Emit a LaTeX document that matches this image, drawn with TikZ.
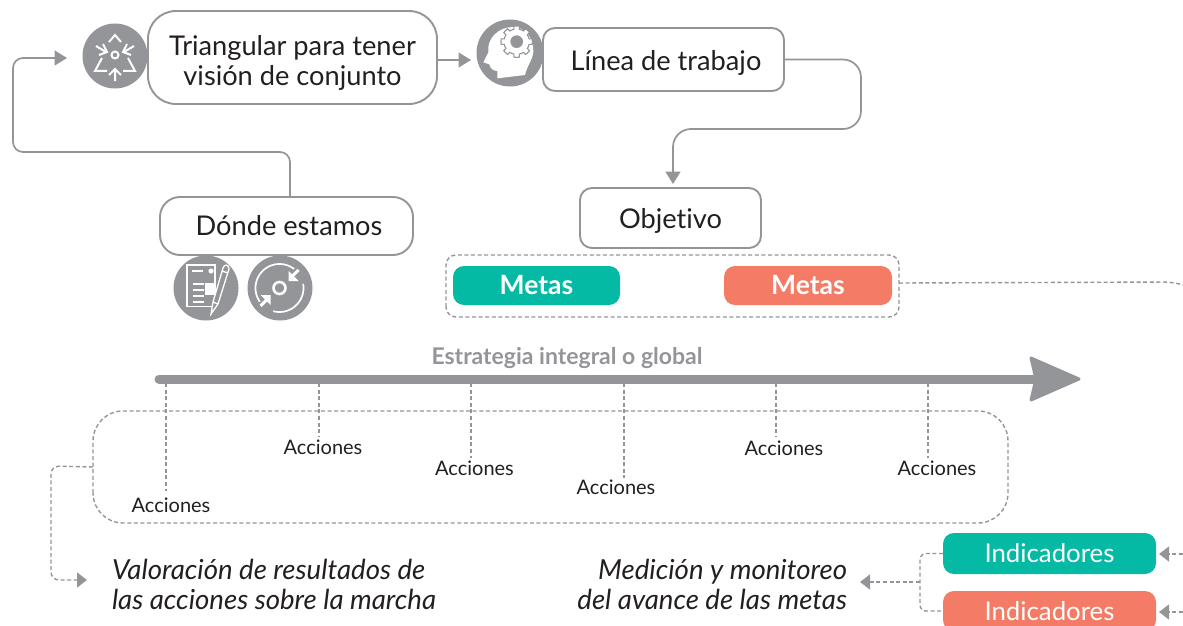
\documentclass[tikz,border=0pt]{standalone}
\usepackage{fontspec}
\setmainfont{Lato}[Ligatures={NoCommon,TeX}]
\usetikzlibrary{arrows.meta}
\definecolor{gr}{HTML}{939598}
\definecolor{tl}{HTML}{05BAA5}
\definecolor{cr}{HTML}{F47C66}
\definecolor{ink}{HTML}{231F20}
\tikzset{
 x=1pt,y=-1pt,
 box/.style={draw=gr,line width=1.9pt,fill=white,align=center,text=ink,font=\fontsize{27.2}{30}\selectfont,inner sep=0pt,outer sep=0pt},
 pill/.style={fill=#1,rounded corners=11pt,text=white,inner sep=0pt,outer sep=0pt},
 conn/.style={draw=gr,line width=1.7pt},
 tipped/.style={-{Triangle[length=12.5pt,width=15pt,fill=gr]}},
 dline/.style={draw=gr,line width=1.4pt,dash pattern=on 4pt off 2.6pt},
 dtip/.style={-{Triangle[length=10pt,width=15pt,fill=gr]}},
 lab/.style={text=ink,font=\fontsize{20}{24}\selectfont,inner sep=0pt,outer sep=0pt},
 ital/.style={text=ink,font=\fontsize{27.6}{30}\selectfont\itshape,inner sep=0pt,outer sep=0pt},
 disc/.style={circle,fill=gr,minimum size=65pt,inner sep=0pt,outer sep=0pt},
 wl/.style={draw=white,line width=2pt},
}
\begin{document}
\begin{tikzpicture}
\useasboundingbox (0,0) rectangle (1183,626);
\clip (0,0) rectangle (1183,626);
% icons
\node[disc] (ic1) at (115,56) {};
\node[disc,minimum size=67pt] (ic2) at (510,53) {};
\node[disc] (ic3) at (206,288) {};
\node[disc] (ic4) at (280,288) {};
% boxes
\node[box,rounded corners=28pt,minimum width=289pt,minimum height=93pt] (tri) at (292.5,57.5) {\rule{0pt}{31pt}Triangular para tener\\visión de conjunto};
\node[box,rounded corners=12pt,minimum width=241pt,minimum height=63pt] (lin) at (663.5,59.5) {\hspace*{5pt}\rule{0pt}{27pt}Línea de trabajo};
\node[box,rounded corners=12pt,minimum width=181pt,minimum height=60pt] (obj) at (670.5,218) {\rule{0pt}{25pt}Objetivo};
\node[box,rounded corners=20pt,minimum width=253pt,minimum height=58pt] (don) at (286.5,226) {\hspace*{5pt}Dónde estamos};
% triangulate icon
\begin{scope}[shift={(115,55)}]
 \draw[wl] (0,0) circle (3.5);
 \draw[wl] (-6,-13) -- (0,-20) -- (6,-13);
 \draw[wl] (0,26) -- (0,14) (-6,20) -- (0,14) -- (6,20);
 \draw[wl] (-19,-9) -- (-9,-3) (-16,0) -- (-8,-3) -- (-12,-11);
 \draw[wl] (19,-9) -- (9,-3) (16,0) -- (8,-3) -- (12,-11);
 \draw[wl] (-13,3) -- (-20,16) -- (-8,16);
 \draw[wl] (13,3) -- (20,16) -- (8,16);
\end{scope}
% head icon
\begin{scope}[shift={(470,15)},x=0.3333pt,y=-0.3333pt]
 \fill[white] (82,190) -- (82,168) .. controls (70,168) and (60,160) .. (58,148) -- (40,142)
   -- (55,112) .. controls (50,70) and (85,36) .. (130,36) .. controls (165,36) and (192,70) .. (190,112)
   .. controls (188,135) and (172,150) .. (165,180) -- cycle;
 \draw[gr,fill=white,line width=1.1pt,domain=0:360,samples=145] plot ({140+(cos(8*\x)>0 ? 47 : 38)*cos(\x)},{80+(cos(8*\x)>0 ? 47 : 38)*sin(\x)}) -- cycle;
 \fill[gr] (140,80) circle (19);
\end{scope}
% document icon
\begin{scope}[shift={(165,250)}]
 \draw[wl,line width=1.3pt] (22,15) rectangle (50,56.5);
 \draw[wl,line width=1.8pt] (27,21) -- (38,21) (28,34) -- (39,34) (28,40) -- (39,40) (28,46) -- (39,46) (28,52) -- (39,52);
 \fill[white] (46,21) circle (2.6);
 \fill[white] (40,33) rectangle (49,45);
 \fill[gr] (46,60) -- (58,17) -- (65,19) -- (52,62) -- cycle;
 \draw[wl,line width=1.3pt] (46,64) -- (48,52) -- (58,18) .. controls (59,14) and (64,14) .. (64,19) -- (53,54) -- cycle (48,52) -- (53,54) (57,21) -- (63,23);
\end{scope}
% disc icon
\begin{scope}[shift={(279.5,288)}]
 \draw[white,line width=2.6pt] (0,0) circle (6);
 \draw[wl,line width=1.7pt,domain=-50:-215,samples=40,smooth] plot ({24*cos(\x)},{24*sin(\x)});
 \draw[wl,line width=1.7pt,domain=-255:-370,samples=30,smooth] plot ({24*cos(\x)},{24*sin(\x)});
 \draw[gr,line width=6pt] (13,-13) -- (22,-22);
 \draw[white,line width=3pt] (12,-11) -- (19,-18);
 \fill[white] (9,-7) -- (19,-7) -- (9,-17) -- cycle;
 \draw[gr,line width=6pt] (-13,13) -- (-22,22);
 \draw[white,line width=3pt] (-12,11) -- (-19,18);
 \fill[white] (-9,7) -- (-19,7) -- (-9,17) -- cycle;
\end{scope}
% connectors top
\coordinate (t1) at (67,58);
\coordinate (t2) at (471,60);
\coordinate (t3) at (673,184);
\coordinate (c1) at (13,152);
\coordinate (c2) at (861,129);
\draw[conn,tipped,rounded corners=10pt] ([xshift=3.5pt]don.north) |- (c1) |- (t1);
\draw[conn,tipped] (tri.east |- t2) -- (t2);
\draw[conn,tipped,rounded corners=18pt] (lin.east) -| (c2) -| (t3);
% metas
\node[minimum width=453pt,minimum height=62pt,inner sep=0pt,outer sep=0pt] (mbox) at (672.5,286) {};
\draw[dline,rounded corners=10pt] (mbox.south west) rectangle (mbox.north east);
\node[pill=tl,minimum width=167pt,minimum height=39pt,font=\fontsize{26.5}{28}\selectfont\bfseries] (m1) at (536.5,285.5) {Metas};
\node[pill=cr,minimum width=168pt,minimum height=39pt,font=\fontsize{26.5}{28}\selectfont\bfseries] (m2) at (808,285.5) {Metas};
\coordinate (mr) at (1183,285);
\coordinate (mk) at (1172,282);
\coordinate (mo) at (899,283);
\draw[dline,rounded corners=8pt] (mo) -- (mk) -- (mr);
% big arrow
\coordinate (as) at (159,379);
\coordinate (ae) at (1040,379);
\draw[gr,line width=9pt,line cap=round] (as) -- (ae);
\fill[gr,draw=gr,line width=3pt,line join=round] (1079,379) -- (1031,358) -- (1036,379) -- (1031,400) -- cycle;
\node[text=gr,font=\fontsize{23}{26}\selectfont\bfseries,inner sep=0pt] (est) at (567,358) {Estrategia integral o global};
% acciones
\node[minimum width=915pt,minimum height=112pt,inner sep=0pt,outer sep=0pt] (abox) at (550.5,467) {};
\draw[dline,rounded corners=30pt] (abox.south west) rectangle (abox.north east);
\node[lab] (a1) at (171,505) {Acciones};
\node[lab] (a2) at (323,447) {Acciones};
\node[lab] (a3) at (474.5,468) {Acciones};
\node[lab] (a4) at (616,487) {Acciones};
\node[lab] (a5) at (784,448) {Acciones};
\node[lab] (a6) at (937,468) {Acciones};
\foreach \n/\x/\e in {a1/166/491,a2/319/437,a3/471/458,a4/624/478,a5/776/437,a6/928/458}{
 \coordinate (s\n) at (\x,383);
 \coordinate (e\n) at (\x,\e);
 \draw[dline] (s\n) -- (e\n);
}
% text
\node[ital,align=left,anchor=west] (val) at (112,584) {Valoración de resultados de\\las acciones sobre la marcha};
\node[ital,align=right,anchor=east] (med) at (847,584) {Medición y monitoreo\\del avance de las metas};
\coordinate (lc) at (51,466);
\coordinate (lt) at (87,580);
\draw[dline,dtip,rounded corners=8pt] (abox.west) -- (lc) |- (lt);
% indicadores
\node[pill=tl,minimum width=213pt,minimum height=41pt,font=\fontsize{25.8}{28}\selectfont] (i1) at (1049.5,553.5) {Indicadores};
\node[pill=cr,minimum width=213pt,minimum height=40pt,font=\fontsize{25.8}{28}\selectfont] (i2) at (1049.5,611) {Indicadores};
\coordinate (j) at (920,582);
\coordinate (mt) at (860,582);
\draw[dline,rounded corners=6pt] (i1.west) -| (j) |- (i2.west);
\draw[dline,dtip] (j) -- (mt);
\coordinate (r1) at (1183,554);
\coordinate (r2) at (1183,612);
\coordinate (q1) at (1159,554);
\coordinate (q2) at (1159,612);
\draw[dline,dtip] (r1) -- (q1);
\draw[dline,dtip] (r2) -- (q2);
\end{tikzpicture}
\end{document}
